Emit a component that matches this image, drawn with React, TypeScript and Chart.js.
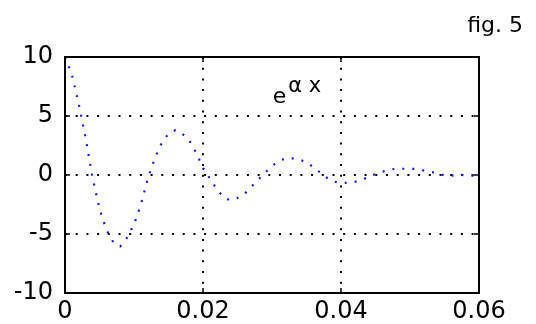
import React, { useEffect, useRef } from "react";
import { Chart, registerables } from "chart.js";

Chart.register(...registerables);

// ---- data ----
const xValues = [
  0, 0.001, 0.002, 0.003, 0.004, 0.005, 0.006, 0.007, 0.008, 0.009,
  0.01, 0.011, 0.012, 0.013, 0.014, 0.015, 0.016, 0.017, 0.018, 0.019,
  0.02, 0.021, 0.022, 0.023, 0.024, 0.025, 0.026, 0.027, 0.028, 0.029,
  0.03, 0.031, 0.032, 0.033, 0.034, 0.035, 0.036, 0.037, 0.038, 0.039,
  0.04, 0.041, 0.042, 0.043, 0.044, 0.045, 0.046, 0.047, 0.048, 0.049,
  0.05, 0.051, 0.052, 0.053, 0.054, 0.055, 0.056, 0.057, 0.058, 0.059,
  0.06,
];
const yValues = [
  10, 8.5, 6.0, 3.1, -0.25, -2.85, -4.65, -5.7, -6.05, -5.3,
  -4.2, -2.5, -0.3, 1.4, 2.7, 3.5, 3.8, 3.5, 2.95, 1.9,
  0.6, -0.3, -1.2, -1.9, -2.15, -1.95, -1.6, -1.0, -0.4, 0.2,
  0.75, 1.2, 1.4, 1.42, 1.3, 1.08, 0.65, 0.2, -0.25, -0.55,
  -0.7, -0.65, -0.58, -0.45, -0.12, 0.08, 0.27, 0.45, 0.53, 0.53,
  0.53, 0.5, 0.38, 0.27, 0.15, -0.05, -0.05, 0.03, -0.02, -0.05,
  -0.03,
];
const xTicks = [0, 0.02, 0.04, 0.06];
const yTicks = [-10, -5, 0, 5, 10];
const titleText = "fig. 5";
const noteBase = "e";
const noteSup = "α x";
const notePos = { x: 0.0301, y: 6.1 };

const FONT = '"DejaVu Sans", "Liberation Sans", sans-serif';

const framePlugin = {
  id: "frame",
  afterDatasetsDraw(chart: any) {
    const { ctx, chartArea: a, scales } = chart;
    const xs = scales.x;
    const ys = scales.y;
    ctx.save();
    ctx.strokeStyle = "#000";
    ctx.lineWidth = 2;
    ctx.setLineDash([]);
    ctx.strokeRect(a.left, a.top, a.right - a.left, a.bottom - a.top);
    ctx.lineWidth = 1.5;
    const seg = (x1: number, y1: number, x2: number, y2: number) => {
      ctx.beginPath();
      ctx.moveTo(x1, y1);
      ctx.lineTo(x2, y2);
      ctx.stroke();
    };
    xTicks.forEach((v) => {
      const px = xs.getPixelForValue(v);
      seg(px, a.bottom, px, a.bottom - 5);
      seg(px, a.top, px, a.top + 5);
    });
    yTicks.forEach((v) => {
      const py = ys.getPixelForValue(v);
      seg(a.left, py, a.left + 5, py);
      seg(a.right, py, a.right - 5, py);
    });
    // annotation e^{αx}
    ctx.fillStyle = "#000";
    ctx.textBaseline = "alphabetic";
    ctx.textAlign = "left";
    const bx = xs.getPixelForValue(notePos.x);
    const by = ys.getPixelForValue(notePos.y);
    ctx.font = `22px ${FONT}`;
    ctx.fillText(noteBase, bx, by);
    const w = ctx.measureText(noteBase).width;
    ctx.font = `21px ${FONT}`;
    ctx.fillText(noteSup, bx + w + 2, by - 11);
    // figure label
    ctx.font = `22px ${FONT}`;
    ctx.textAlign = "right";
    ctx.fillText(titleText, 523, 32);
    ctx.restore();
  },
};

export default function App() {
  const ref = useRef<HTMLCanvasElement | null>(null);
  useEffect(() => {
    if (!ref.current) return;
    const data = xValues.map((x, i) => ({ x, y: yValues[i] }));
    const chart = new Chart(ref.current, {
      type: "line",
      data: {
        datasets: [
          {
            data,
            borderColor: "rgb(20,20,240)",
            borderWidth: 2.2,
            borderDash: [2, 8],
            borderCapStyle: "butt",
            pointRadius: 0,
            tension: 0,
            fill: false,
          },
        ],
      },
      options: {
        animation: false,
        responsive: false,
        devicePixelRatio: 1,
        layout: { padding: { top: 57, right: 57, left: 0, bottom: 0 } },
        plugins: { legend: { display: false }, tooltip: { enabled: false }, title: { display: false } },
        scales: {
          x: {
            type: "linear",
            min: 0,
            max: 0.06,
            afterFit: (s: any) => {
              s.height = 31;
            },
            ticks: {
              stepSize: 0.02,
              padding: 4,
              color: "#000",
              font: { family: FONT, size: 24 },
              maxRotation: 0,
              callback: (v: any) => String(Number(Number(v).toFixed(2))),
            },
            grid: { color: "#000", lineWidth: 2, drawTicks: false },
            border: { display: false, dash: [2, 8.7] },
          },
          y: {
            type: "linear",
            min: -10,
            max: 10,
            afterFit: (s: any) => {
              s.width = 65;
            },
            ticks: {
              stepSize: 5,
              padding: 12,
              color: "#000",
              font: { family: FONT, size: 24 },
            },
            grid: { color: "#000", lineWidth: 2, drawTicks: false },
            border: { display: false, dash: [2, 8.7] },
          },
        },
      },
      plugins: [framePlugin],
    });
    return () => chart.destroy();
  }, []);
  return (
    <div style={{ position: "fixed", left: 0, top: 0, width: 536, height: 324, background: "#fff" }}>
      <canvas ref={ref} width={536} height={324} style={{ display: "block", width: 536, height: 324 }} />
    </div>
  );
}
